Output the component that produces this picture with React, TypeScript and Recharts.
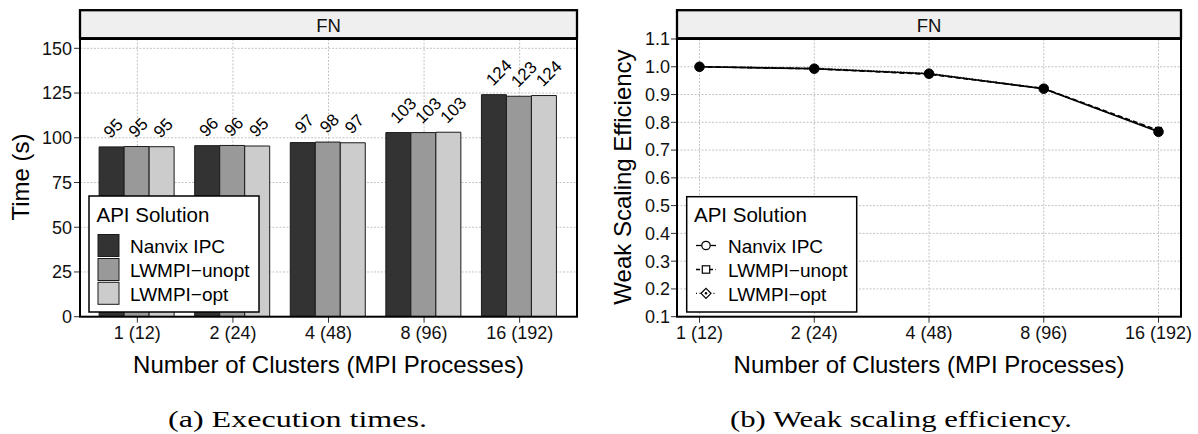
import React from 'react';
import { BarChart, Bar, XAxis, YAxis, CartesianGrid, LabelList, LineChart, Line } from 'recharts';

const categories = ['1 (12)', '2 (24)', '4 (48)', '8 (96)', '16 (192)'];
const seriesNames = ['Nanvix IPC', 'LWMPI\u2212unopt', 'LWMPI\u2212opt'];
const nanvixTime = [94.9, 95.6, 97.3, 102.9, 124.1];
const unoptTime = [95.1, 95.7, 97.6, 102.9, 123.2];
const optTime = [95.0, 95.4, 97.2, 103.1, 123.6];
const nanvixEff = [1.0, 0.993, 0.975, 0.921, 0.766];
const unoptEff = [1.0, 0.993, 0.973, 0.922, 0.771];
const optEff = [1.0, 0.995, 0.976, 0.921, 0.768];
const timeTicks = [0, 25, 50, 75, 100, 125, 150];
const timeGrid = [0, 12.5, 25, 37.5, 50, 62.5, 75, 87.5, 100, 112.5, 125, 137.5, 150];
const effTicks = [0.1, 0.2, 0.3, 0.4, 0.5, 0.6, 0.7, 0.8, 0.9, 1.0, 1.1];
const panelTitle = 'FN';
const xTitle = 'Number of Clusters (MPI Processes)';
const yTitleLeft = 'Time (s)';
const yTitleRight = 'Weak Scaling Efficiency';
const legendTitle = 'API Solution';
const captionA = '(a) Execution times.';
const captionB = '(b) Weak scaling efficiency.';

const timeData = categories.map((c, i) => ({ cat: c, nanvix: nanvixTime[i], unopt: unoptTime[i], opt: optTime[i] }));
const effData = categories.map((c, i) => ({ cat: c, nanvix: nanvixEff[i], unopt: unoptEff[i], opt: optEff[i] }));

const SANS = '"Liberation Sans", Arial, Helvetica, sans-serif';
const SERIF = '"Liberation Serif", "DejaVu Serif", serif';
const barFills = ['#333333', '#999999', '#cccccc'];
const gridStroke = '#c4c4c4';
const gridDash = '2 1.5';
const tickStyle = { fill: '#111', fontSize: 18, fontFamily: SANS };

const BarValueLabel = (props: any) => {
  const { x, y, width, value } = props;
  const cx = Number(x) + Number(width) / 2 - 1;
  const cy = Number(y) - 8;
  return (
    <text x={cx} y={cy} transform={`rotate(-45 ${cx} ${cy})`} fontSize={17} fill="#000" fontFamily={SANS}>
      {Math.round(Number(value))}
    </text>
  );
};

const dotCircle = (props: any) => {
  const { cx, cy, index } = props;
  return <circle key={`c${index}`} cx={cx} cy={cy} r={4.8} fill="#000" stroke="#000" />;
};
const dotSquare = (props: any) => {
  const { cx, cy, index } = props;
  return <rect key={`s${index}`} x={cx - 3.5} y={cy - 3.5} width={7} height={7} fill="#000" />;
};
const dotDiamond = (props: any) => {
  const { cx, cy, index } = props;
  return <path key={`d${index}`} d={`M${cx},${cy - 4.5}L${cx + 4.5},${cy}L${cx},${cy + 4.5}L${cx - 4.5},${cy}Z`} fill="#000" />;
};

const Strip = ({ x, w }: { x: number; w: number }) => (
  <g>
    <rect x={x} y={10.2} width={w} height={28} fill="#efefef" stroke="#000" strokeWidth={2.3} />
    <text x={x + w / 2} y={31.5} textAnchor="middle" fontSize={18.5} fontFamily={SANS} fill="#111">{panelTitle}</text>
  </g>
);

export default function App() {
  const rows = [245.5, 269.5, 293.3];
  return (
    <div style={{ position: 'absolute', left: 0, top: 0, width: 1198, height: 434, background: '#fff', fontFamily: SANS }}>
      <div style={{ position: 'absolute', left: 0, top: 0 }}>
        <BarChart width={600} height={380} data={timeData} margin={{ top: 39, right: 23, bottom: 33.3, left: 20 }} barCategoryGap={9.56} barGap={0}>
          <CartesianGrid horizontalValues={timeGrid} stroke={gridStroke} strokeDasharray={gridDash} />
          <XAxis dataKey="cat" padding={{ left: 9.56, right: 9.56 }} axisLine={false} tickLine={{ stroke: '#333' }} tick={tickStyle} height={30} tickMargin={4} interval={0} />
          <YAxis type="number" domain={[0, 155.2]} ticks={timeTicks} allowDataOverflow width={60} axisLine={false} tickLine={{ stroke: '#333' }} tick={tickStyle} tickMargin={2} />
          <Bar dataKey="nanvix" fill={barFills[0]} stroke="#1a1a1a" strokeWidth={1} isAnimationActive={false}>
            <LabelList dataKey="nanvix" content={BarValueLabel} />
          </Bar>
          <Bar dataKey="unopt" fill={barFills[1]} stroke="#1a1a1a" strokeWidth={1} isAnimationActive={false}>
            <LabelList dataKey="unopt" content={BarValueLabel} />
          </Bar>
          <Bar dataKey="opt" fill={barFills[2]} stroke="#1a1a1a" strokeWidth={1} isAnimationActive={false}>
            <LabelList dataKey="opt" content={BarValueLabel} />
          </Bar>
        </BarChart>
      </div>
      <div style={{ position: 'absolute', left: 600, top: 0 }}>
        <LineChart width={598} height={380} data={effData} margin={{ top: 39, right: 17, bottom: 33.3, left: 17 }}>
          <CartesianGrid stroke={gridStroke} strokeDasharray={gridDash} />
          <XAxis dataKey="cat" scale="point" padding={{ left: 22.5, right: 22.5 }} axisLine={false} tickLine={{ stroke: '#333' }} tick={tickStyle} height={30} tickMargin={4} interval={0} />
          <YAxis type="number" domain={[0.1, 1.1]} ticks={effTicks} allowDataOverflow width={60} axisLine={false} tickLine={{ stroke: '#333' }} tick={tickStyle} tickMargin={1} tickFormatter={(v: number) => v.toFixed(1)} />
          <Line type="linear" dataKey="opt" stroke="#000" strokeWidth={1.6} strokeDasharray="1 2" dot={dotDiamond} isAnimationActive={false} />
          <Line type="linear" dataKey="unopt" stroke="#000" strokeWidth={1.6} strokeDasharray="5 3" dot={dotSquare} isAnimationActive={false} />
          <Line type="linear" dataKey="nanvix" stroke="#000" strokeWidth={1.6} dot={dotCircle} isAnimationActive={false} />
        </LineChart>
      </div>
      <svg width={1198} height={434} style={{ position: 'absolute', left: 0, top: 0, pointerEvents: 'none' }}>
        <rect x={80} y={39} width={497} height={277.7} fill="none" stroke="#000" strokeWidth={2} />
        <Strip x={80} w={497} />
        <text x={29} y={177} transform="rotate(-90 29 177)" textAnchor="middle" fontSize={24} fontFamily={SANS} fill="#000">{yTitleLeft}</text>
        <text x={328.5} y={373} textAnchor="middle" fontSize={24} fontFamily={SANS} fill="#000">{xTitle}</text>
        <rect x={89} y={196} width={170} height={116} fill="#fff" stroke="#000" strokeWidth={1.5} />
        <text x={96.5} y={221.5} fontSize={20.5} fontFamily={SANS} fill="#000">{legendTitle}</text>
        {seriesNames.map((n, i) => (
          <g key={n}>
            <rect x={98} y={rows[i] - 11} width={21} height={22} fill={barFills[i]} stroke="#1a1a1a" strokeWidth={1} />
            <text x={130} y={rows[i] + 7.2} fontSize={19} fontFamily={SANS} fill="#000">{n}</text>
          </g>
        ))}
        <rect x={677} y={39} width={504} height={277.7} fill="none" stroke="#000" strokeWidth={2} />
        <Strip x={677} w={504} />
        <text x={631} y={177} transform="rotate(-90 631 177)" textAnchor="middle" fontSize={24} fontFamily={SANS} fill="#000">{yTitleRight}</text>
        <text x={929} y={373} textAnchor="middle" fontSize={24} fontFamily={SANS} fill="#000">{xTitle}</text>
        <rect x={686.7} y={196.7} width={170} height={115.3} fill="#fff" stroke="#000" strokeWidth={1.5} />
        <text x={694} y={221.5} fontSize={20.5} fontFamily={SANS} fill="#000">{legendTitle}</text>
        {seriesNames.map((n, i) => (
          <g key={n}>
            <line x1={696} x2={716} y1={rows[i]} y2={rows[i]} stroke="#000" strokeWidth={1.3} strokeDasharray={i === 0 ? undefined : i === 1 ? '4 2.5' : '1 2.5'} />
            {i === 0 && <circle cx={706} cy={rows[i]} r={4.2} fill="#fff" stroke="#000" strokeWidth={1.2} />}
            {i === 1 && <rect x={702.3} y={rows[i] - 3.7} width={7.4} height={7.4} fill="#fff" stroke="#000" strokeWidth={1.2} />}
            {i === 2 && (
              <g>
                <path d={`M706,${rows[i] - 5}L711,${rows[i]}L706,${rows[i] + 5}L701,${rows[i]}Z`} fill="#fff" stroke="#000" strokeWidth={1.2} />
                <circle cx={706} cy={rows[i]} r={1.2} fill="#000" />
              </g>
            )}
            <text x={728} y={rows[i] + 7.2} fontSize={19} fontFamily={SANS} fill="#000">{n}</text>
          </g>
        ))}
        <text x={168} y={426.5} fontSize={24} fontFamily={SERIF} fill="#000" textLength={259} lengthAdjust="spacingAndGlyphs">{captionA}</text>
        <text x={730} y={426.5} fontSize={24} fontFamily={SERIF} fill="#000" textLength={342} lengthAdjust="spacingAndGlyphs">{captionB}</text>
      </svg>
    </div>
  );
}
